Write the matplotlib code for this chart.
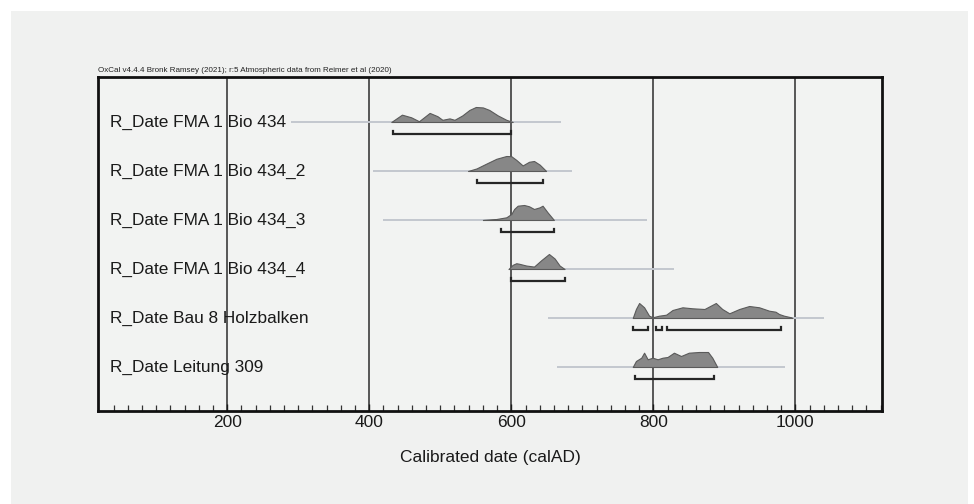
import matplotlib
matplotlib.use("Agg")
import matplotlib.pyplot as plt
from matplotlib.patches import Rectangle
import matplotlib.transforms as mtransforms

plt.rcParams['font.family'] = ['Liberation Sans', 'DejaVu Sans']

# ---------------- data ----------------
labels = ["R_Date FMA 1 Bio 434", "R_Date FMA 1 Bio 434_2", "R_Date FMA 1 Bio 434_3",
          "R_Date FMA 1 Bio 434_4", "R_Date Bau 8 Holzbalken", "R_Date Leitung 309"]

# full calibration range (thin grey line)
line_start = [290, 405, 420, 626, 651, 665]
line_end = [670, 686, 791, 829, 1040, 986]

# posterior/likelihood shapes (year, relative height)
dist1_years = [431, 446, 459, 470, 485, 496, 503, 513, 520, 531, 541, 550, 560, 569, 581, 593, 602]
dist1_h = [0, 6.7, 4.3, 0.7, 8.3, 5.3, 2, 3.3, 2, 6, 11, 13.7, 13.3, 11, 6, 2, 0]

dist2_years = [539, 551, 565, 579, 593, 600, 607, 616, 625, 632, 640, 649]
dist2_h = [0, 2.3, 6.7, 11, 13.5, 13.3, 10, 5, 8.3, 9, 5.7, 0]

dist3_years = [560, 579, 593, 600, 604, 609, 618, 625, 632, 640, 644, 651, 660]
dist3_h = [0, 1, 2.7, 6, 11, 14.3, 15, 13.7, 11, 12.7, 14.3, 7.7, 0]

dist4_years = [596, 602, 607, 611, 621, 632, 642, 653, 661, 668, 675]
dist4_h = [0, 4, 5.5, 5, 3.3, 2.3, 8.3, 14.3, 10, 3.3, 0]

dist5_years = [771, 775.5, 780, 787, 794, 799, 808, 818, 827, 841, 855, 872, 888, 897, 907,
               921, 935, 949, 963, 972, 977, 984, 994, 996]
dist5_h = [0, 9, 15, 10.7, 2.3, 0.7, 2.3, 3.3, 8, 10.7, 9.7, 9, 15, 9, 4.7,
           9, 12, 10.7, 7.3, 6.3, 4, 2.3, 0.7, 0]

dist6_years = [771, 775.5, 783, 787, 792, 799, 806, 813, 820, 829, 839, 850, 864, 877, 883, 890]
dist6_h = [0, 6, 9.3, 14.3, 7.7, 9.3, 7.7, 9.3, 10, 14.3, 11, 14.3, 15, 15, 9.3, 0]

dist_years = [dist1_years, dist2_years, dist3_years, dist4_years, dist5_years, dist6_years]
dist_h = [dist1_h, dist2_h, dist3_h, dist4_h, dist5_h, dist6_h]

# 95.4% ranges (brackets)
ranges = [
    [(433, 600)],
    [(551, 645)],
    [(585, 660)],
    [(600, 675)],
    [(772, 793), (804, 812), (819, 980)],
    [(774, 886)],
]

major_ticks = [200, 400, 600, 800, 1000]
title = "OxCal v4.4.4 Bronk Ramsey (2021); r:5 Atmospheric data from Reimer et al (2020)"
xlabel = "Calibrated date (calAD)"

# ---------------- figure ----------------
W, H = 974, 504
fig = plt.figure(figsize=(W / 100, H / 100), dpi=100, facecolor="white")
fig.patches.append(Rectangle((11 / W, 0), (968 - 11) / W, (H - 11) / H,
                             transform=fig.transFigure, facecolor="#f0f1f0",
                             edgecolor="none", zorder=-10))

left, right, top, bottom = 98, 882, 77, 411
ax = fig.add_axes([left / W, 1 - bottom / H, (right - left) / W, (bottom - top) / H])
ax.set_zorder(5)
ax.set_facecolor("#f2f3f2")

row_px = 49.0
ax.set_xlim(18, 1122)
ax.set_ylim((bottom - 122) / row_px, -(122 - top) / row_px)

for t in major_ticks:
    ax.axvline(t, color="#4a4a4a", lw=1.3, zorder=1)

hscale = 15.0 / row_px
for i in range(len(labels)):
    ax.plot([line_start[i], line_end[i]], [i, i], color="#c3c7cf", lw=1.4,
            solid_capstyle="butt", zorder=2)
    hmax = max(dist_h[i])
    ys = [i - h / hmax * hscale for h in dist_h[i]]
    ax.fill_between(dist_years[i], [i] * len(ys), ys, facecolor="#878787",
                    edgecolor="#5a5a5a", lw=0.8, zorder=3)
    by = i + 11.8 / row_px
    tk = 3.0 / row_px
    for (a, b) in ranges[i]:
        ax.plot([a, a, b, b], [by - tk, by, by, by - tk], color="#262626", lw=1.6,
                solid_joinstyle="miter", zorder=4)
    ax.text(12 / (right - left), i + 4.7 / row_px, labels[i],
            transform=mtransforms.blended_transform_factory(ax.transAxes, ax.transData),
            ha="left", va="baseline", fontsize=12.4, color="#1a1a1a", zorder=5)

ax.set_xticks(major_ticks)
ax.set_xticks(list(range(40, 1121, 20)), minor=True)
ax.set_yticks([])
ax.tick_params(axis="x", which="major", direction="in", length=5, width=1,
               labelsize=12.5, pad=3, colors="#1a1a1a")
ax.tick_params(axis="x", which="minor", direction="in", length=4, width=0.9,
               colors="#333333")
for s in ax.spines.values():
    s.set_linewidth(2)
    s.set_color("#111111")

ax.set_xlabel(xlabel, fontsize=12.5, labelpad=14, color="#1a1a1a")
ax.text(0, 1.008, title, transform=ax.transAxes, ha="left", va="bottom",
        fontsize=5.8, color="#222222")

fig.savefig("out.png", dpi=100, facecolor="white")
